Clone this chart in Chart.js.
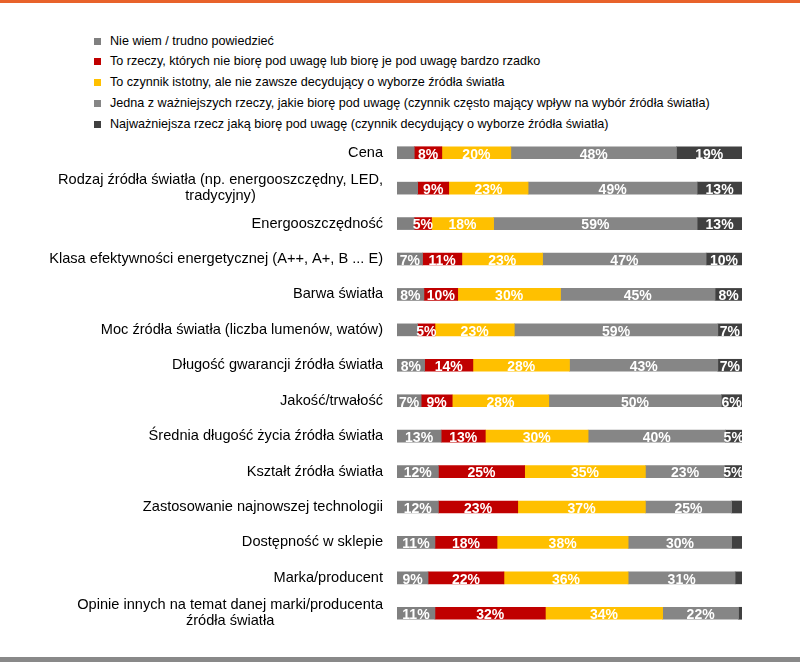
<!DOCTYPE html>
<html lang="pl">
<head>
<meta charset="utf-8">
<script src="https://cdn.jsdelivr.net/npm/chart.js@4/dist/chart.umd.min.js"></script>
<style>
    html, body { margin: 0; padding: 0; background: #fff; }
    body { width: 800px; height: 662px; position: relative; overflow: hidden; font-family: Arial, "Liberation Sans", sans-serif; }
    .top-line { position: absolute; left: 0; top: 0; width: 800px; height: 3px; background: #e8622a; }
    .bottom-line { position: absolute; left: 0; top: 657px; width: 800px; height: 5px; background: #898989; }
    #legend { position: absolute; left: 94px; top: 30.5px; }
    .legend-item { height: 20.8px; line-height: 20.8px; font-size: 12.6px; color: #000; white-space: nowrap; }
    .legend-box { display: inline-block; width: 7px; height: 7px; margin-right: 9px; vertical-align: 0; }
    #chart-wrap { position: absolute; left: 0; top: 0; width: 800px; height: 662px; }
</style>
</head>
<body>
<div class="top-line"></div>
<div id="legend"></div>
<div id="chart-wrap"><canvas id="chart"></canvas></div>
<div class="bottom-line"></div>
<script>
const categories = [
    'Cena',
    'Rodzaj źródła światła (np. energooszczędny, LED,\ntradycyjny)',
    'Energooszczędność',
    'Klasa efektywności energetycznej (A++, A+, B ... E)',
    'Barwa światła',
    'Moc źródła światła (liczba lumenów, watów)',
    'Długość gwarancji źródła światła',
    'Jakość/trwałość',
    'Średnia długość życia źródła światła',
    'Kształt źródła światła',
    'Zastosowanie najnowszej technologii',
    'Dostępność w sklepie',
    'Marka/producent',
    'Opinie innych na temat danej marki/producenta\nźródła światła'
];

const seriesNames = [
    'Nie wiem / trudno powiedzieć',
    'To rzeczy, których nie biorę pod uwagę lub biorę je pod uwagę bardzo rzadko',
    'To czynnik istotny, ale nie zawsze decydujący o wyborze źródła światła',
    'Jedna z ważniejszych rzeczy, jakie biorę pod uwagę (czynnik często mający wpływ na wybór źródła światła)',
    'Najważniejsza rzecz jaką biorę pod uwagę (czynnik decydujący o wyborze źródła światła)'
];

const seriesColors = ['#808080', '#c00000', '#ffc000', '#868686', '#404040'];

// values in %
const nieWiem       = [5, 6, 5, 7.4, 7.8, 6, 8, 7, 12.8, 12, 12, 11, 9, 11];
const nieBiore      = [8, 9, 5, 11.4, 9.8, 5, 14, 9, 12.8, 25, 23, 18, 22, 32];
const istotny       = [20, 23, 18, 23.4, 29.8, 23, 28, 28, 29.8, 35, 37, 38, 36, 34];
const wazniejsze    = [48, 49, 59, 47.4, 44.8, 59, 43, 50, 39.8, 23, 25, 30, 31, 22];
const najwazniejsza = [19, 13, 13, 10.4, 7.8, 7, 7, 6, 4.8, 5, 3, 3, 2, 1];

// smallest value that still gets a label, per series
const minLabel = [7, 4.5, 4.5, 4.5, 4.5];

const seriesValues = [nieWiem, nieBiore, istotny, wazniejsze, najwazniejsza];

document.addEventListener('DOMContentLoaded', () => {
    const legendDiv = document.getElementById('legend');
    seriesNames.forEach((name, i) => {
        const item = document.createElement('div');
        item.classList.add('legend-item');
        item.innerHTML = `<span class="legend-box" style="background:${seriesColors[i]}"></span>${name}`;
        legendDiv.appendChild(item);
    });

    // white % labels inside the segments
    const segmentLabels = {
        id: 'segmentLabels',
        afterDatasetsDraw(chart) {
            const ctx = chart.ctx;
            ctx.save();
            ctx.font = 'bold 14px Arial, "Liberation Sans", sans-serif';
            ctx.fillStyle = '#fff';
            ctx.textAlign = 'center';
            ctx.textBaseline = 'middle';
            chart.data.datasets.forEach((ds, di) => {
                const meta = chart.getDatasetMeta(di);
                meta.data.forEach((bar, i) => {
                    const v = ds.data[i];
                    if (v < minLabel[di]) return;
                    ctx.fillText(Math.round(v) + '%', (bar.x + bar.base) / 2, bar.y + 2);
                });
            });
            ctx.restore();
        }
    };

    // category names: block right-aligned, lines centred inside the block
    const categoryLabels = {
        id: 'categoryLabels',
        afterDraw(chart) {
            const ctx = chart.ctx;
            const yScale = chart.scales.y;
            const right = chart.chartArea.left - 14;
            ctx.save();
            ctx.font = '14.6px Arial, "Liberation Sans", sans-serif';
            ctx.fillStyle = '#000';
            ctx.textAlign = 'center';
            ctx.textBaseline = 'middle';
            categories.forEach((cat, i) => {
                const lines = cat.split('\n');
                const blockW = Math.max(...lines.map(l => ctx.measureText(l).width));
                const cx = right - blockW / 2;
                const yc = yScale.getPixelForValue(i);
                const lh = 16;
                lines.forEach((line, li) => {
                    ctx.fillText(line, cx, yc + (li - (lines.length - 1) / 2) * lh);
                });
            });
            ctx.restore();
        }
    };

    new Chart(document.getElementById('chart').getContext('2d'), {
        type: 'bar',
        data: {
            labels: categories,
            datasets: seriesValues.map((vals, i) => ({
                label: seriesNames[i],
                data: vals,
                backgroundColor: seriesColors[i],
                borderWidth: 0,
                barThickness: 12
            }))
        },
        options: {
            indexAxis: 'y',
            responsive: true,
            maintainAspectRatio: false,
            animation: false,
            layout: { padding: { left: 397, right: 58, top: 135, bottom: 31 } },
            plugins: {
                legend: { display: false },
                tooltip: { enabled: false }
            },
            scales: {
                x: { stacked: true, min: 0, max: 100, display: false },
                y: { stacked: true, display: false }
            }
        },
        plugins: [segmentLabels, categoryLabels]
    });
});
</script>
</body>
</html>
